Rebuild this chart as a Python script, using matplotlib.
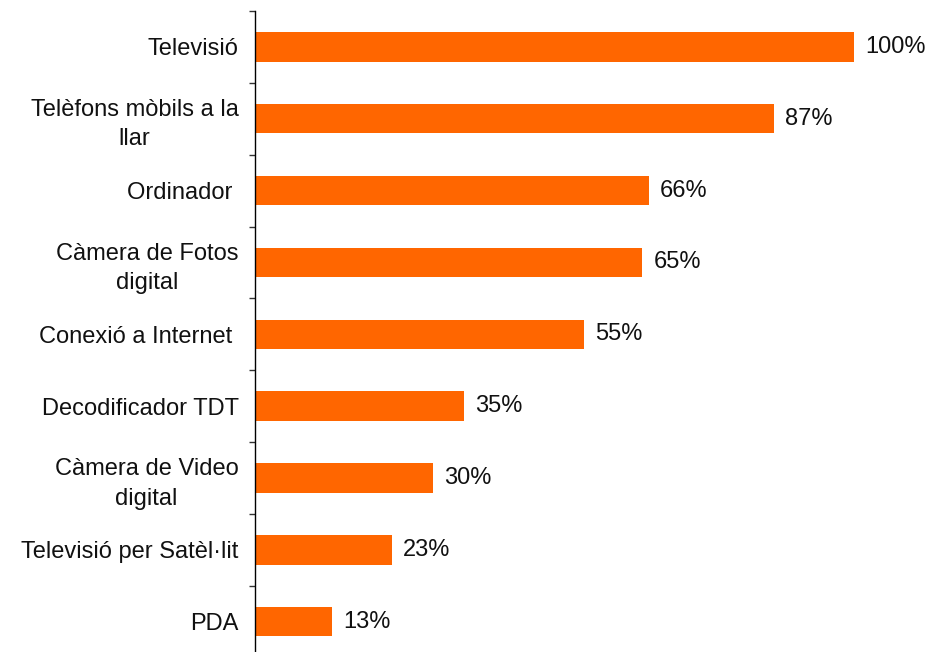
import matplotlib.pyplot as plt
import numpy as np

# Equipament a la llar (% de llars)
categories = [
    "Televisió",
    "Telèfons mòbils a la\nllar",
    "Ordinador ",
    "Càmera de Fotos\ndigital",
    "Conexió a Internet ",
    "Decodificador TDT",
    "Càmera de Video\ndigital",
    "Televisió per Satèl·lit",
    "PDA",
]
values = [100, 86.7, 65.8, 64.7, 55.0, 34.9, 29.8, 22.9, 12.9]

plt.rcParams["font.family"] = ["Liberation Sans", "DejaVu Sans"]

fig = plt.figure(figsize=(9.49, 6.52), dpi=100)
ax = fig.add_axes([254.5 / 949, -5.6 / 652, (854 - 254.5) / 949, (657.6 - 11) / 652])

y = np.arange(len(categories))
bars = ax.barh(y, values, height=0.41, color="#FF6600")
ax.set_xlim(0, 100)
ax.set_ylim(len(categories) - 0.5, -0.5)

# value labels
ax.bar_label(bars, labels=[f"{v:.0f}%" for v in values], padding=8,
             fontsize=17, color="#111111")

# category labels, tick marks between categories
ax.set_yticks(y)
ax.set_yticklabels(categories, fontsize=17, color="#111111")
for lbl in ax.get_yticklabels():
    lbl.set_multialignment("center")
    lbl.set_linespacing(1.42)
ax.tick_params(axis="y", which="major", length=0, pad=11.5)
ax.set_yticks(np.arange(len(categories) + 1) - 0.5, minor=True)
ax.tick_params(axis="y", which="minor", length=4.5, width=1, direction="out",
               color="#333333")

ax.xaxis.set_visible(False)
for side in ["top", "right", "bottom"]:
    ax.spines[side].set_visible(False)
ax.spines["left"].set_linewidth(1)

fig.savefig("out.png", dpi=100)
